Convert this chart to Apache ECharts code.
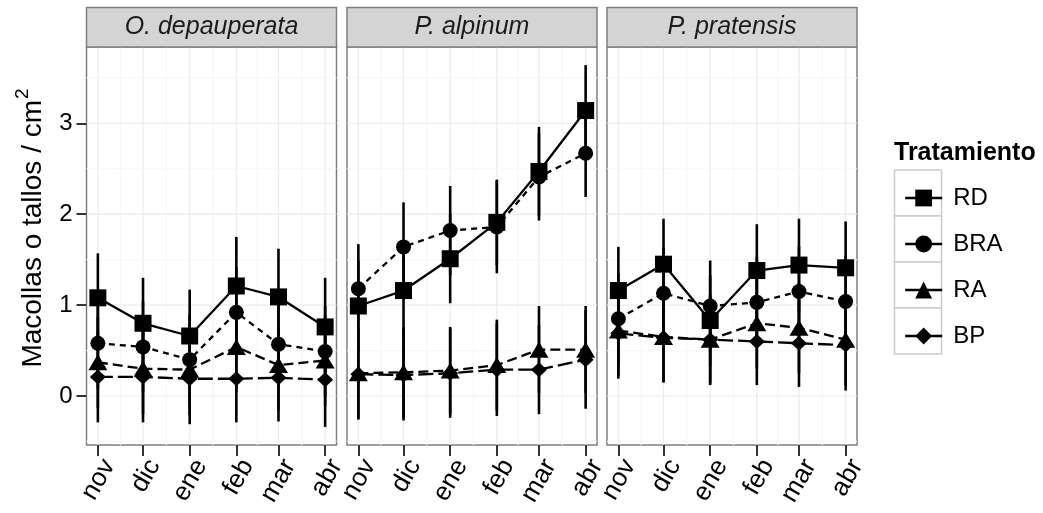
<!DOCTYPE html>
<html><head><meta charset="utf-8">
<script src="https://cdn.jsdelivr.net/npm/echarts@6/dist/echarts.min.js"></script>
<style>html,body{margin:0;padding:0;background:#fff}#c{width:1043px;height:513px}</style>
</head><body><div id="c"></div>
<script>
// ---------- data ----------
const months = ['nov','dic','ene','feb','mar','abr'];
const dates = ['2010-11-01','2010-12-01','2011-01-01','2011-02-01','2011-03-01','2011-04-01'];
const species = ['O. depauperata','P. alpinum','P. pratensis'];
const treatments = ['RD','BRA','RA','BP'];
const yTicks = [0,1,2,3];
const yMinor = [-0.5,0.5,1.5,2.5,3.5];
const yTitle = 'Macollas o tallos / cm';
const yTitleSup = '2';
const legendTitle = 'Tratamiento';

// O. depauperata
const odep_RD  = [1.08,0.80,0.66,1.21,1.09,0.76];
const odep_BRA = [0.58,0.54,0.40,0.92,0.57,0.49];
const odep_RA  = [0.37,0.30,0.29,0.54,0.34,0.39];
const odep_BP  = [0.21,0.21,0.19,0.19,0.20,0.18];
const odep_RD_err  = [0.49,0.50,0.51,0.54,0.53,0.54];
const odep_BRA_err = [0.50,0.50,0.50,0.50,0.50,0.50];
const odep_RA_err  = [0.50,0.50,0.50,0.50,0.50,0.50];
const odep_BP_err  = [0.50,0.50,0.50,0.48,0.48,0.52];
// P. alpinum
const palp_RD  = [0.99,1.16,1.51,1.91,2.47,3.14];
const palp_BRA = [1.18,1.64,1.82,1.86,2.41,2.67];
const palp_RA  = [0.25,0.26,0.28,0.34,0.51,0.51];
const palp_BP  = [0.24,0.23,0.25,0.29,0.29,0.40];
const palp_RD_err  = [0.50,0.50,0.49,0.47,0.49,0.50];
const palp_BRA_err = [0.49,0.49,0.49,0.51,0.48,0.48];
const palp_RA_err  = [0.50,0.50,0.48,0.50,0.48,0.48];
const palp_BP_err  = [0.50,0.50,0.49,0.51,0.49,0.54];
// P. pratensis
const ppra_RD  = [1.16,1.45,0.83,1.38,1.44,1.41];
const ppra_BRA = [0.85,1.13,0.99,1.03,1.15,1.04];
const ppra_RA  = [0.72,0.65,0.62,0.80,0.75,0.62];
const ppra_BP  = [0.69,0.64,0.62,0.60,0.58,0.56];
const ppra_RD_err  = [0.48,0.50,0.50,0.51,0.51,0.51];
const ppra_BRA_err = [0.50,0.50,0.50,0.50,0.50,0.50];
const ppra_RA_err  = [0.50,0.50,0.50,0.50,0.50,0.50];
const ppra_BP_err  = [0.50,0.49,0.48,0.48,0.48,0.50];

const values = [
  [odep_RD, odep_BRA, odep_RA, odep_BP],
  [palp_RD, palp_BRA, palp_RA, palp_BP],
  [ppra_RD, ppra_BRA, ppra_RA, ppra_BP]
];
const errors = [
  [odep_RD_err, odep_BRA_err, odep_RA_err, odep_BP_err],
  [palp_RD_err, palp_BRA_err, palp_RA_err, palp_BP_err],
  [ppra_RD_err, ppra_BRA_err, ppra_RA_err, ppra_BP_err]
];

// ---------- styles ----------
const FONT = 'Liberation Sans, Arial, sans-serif';
const symbols = ['rect','circle','triangle','diamond'];
const symSizes = [17,15,[19,16],[16,15]];
const dashes = ['solid',[6,5],[10,5],[15,5]];

// x as day number since first date (time scale)
const toUTC = d => Date.UTC(+d.slice(0,4), +d.slice(5,7)-1, +d.slice(8,10));
const t0 = toUTC(dates[0]);
const days = dates.map(d => (toUTC(d) - t0) / 86400000);
const span = days[days.length-1] - days[0];
const xMin = days[0] - 0.05*span, xMax = days[days.length-1] + 0.05*span;
let lo = Infinity, hi = -Infinity;
values.forEach((p,pi)=>p.forEach((s,si)=>s.forEach((v,i)=>{
  const e = errors[pi][si][i];
  lo = Math.min(lo, v-e); hi = Math.max(hi, v+e);
})));
const yMin = lo - 0.05*(hi-lo), yMax = hi + 0.05*(hi-lo);
const midDays = days.slice(1).map((t,i)=>(t+days[i])/2);

const gridLeft = [86.5, 347, 607];
const gridW = 250, gridTop = 47, gridH = 398;

const grids = [], xAxes = [], yAxes = [], series = [], graphics = [];
for (let p = 0; p < 3; p++) {
  grids.push({left: gridLeft[p], top: gridTop, width: gridW, height: gridH,
    show: true, borderColor: '#7f7f7f', borderWidth: 1.5, backgroundColor: '#fff', containLabel: false});
  xAxes.push({type: 'value', gridIndex: p, min: xMin, max: xMax,
    axisLine: {show: false, onZero: false}, splitLine: {show: false},
    axisTick: {show: true, customValues: days, length: 11, lineStyle: {color: '#333', width: 2}},
    axisLabel: {show: true, customValues: days, rotate: 60, fontSize: 26, color: '#000', fontFamily: FONT,
      margin: 10, verticalAlign: 'top',
      formatter: v => { const i = days.indexOf(v); return i >= 0 ? months[i] : ''; }}
  });
  yAxes.push({type: 'value', gridIndex: p, min: yMin, max: yMax,
    axisLine: {show: false, onZero: false}, splitLine: {show: false},
    axisTick: {show: p === 0, customValues: yTicks, length: 10, lineStyle: {color: '#333', width: 2}},
    axisLabel: {show: p === 0, customValues: yTicks, fontSize: 24, color: '#000', fontFamily: FONT, margin: 14}
  });

  // gridlines
  series.push({type: 'custom', xAxisIndex: p, yAxisIndex: p, silent: true, z: 0, animation: false,
    data: midDays.map(t => [t, 0, 0]).concat(days.map(t => [t, 0, 1])),
    encode: {x: 0, y: 1},
    renderItem: (params, api) => {
      const cs = params.coordSys;
      const x = api.coord([api.value(0), 0])[0];
      return {type: 'line', shape: {x1: x, y1: cs.y, x2: x, y2: cs.y + cs.height},
        style: {stroke: api.value(2) ? '#ebebeb' : '#f7f7f7', lineWidth: 1.2}};
    }});
  series.push({type: 'custom', xAxisIndex: p, yAxisIndex: p, silent: true, z: 0, animation: false,
    data: yMinor.map(v => [days[0], v, 0]).concat(yTicks.map(v => [days[0], v, 1])),
    encode: {x: 0, y: 1},
    renderItem: (params, api) => {
      const cs = params.coordSys;
      const y = api.coord([api.value(0), api.value(1)])[1];
      return {type: 'line', shape: {x1: cs.x, y1: y, x2: cs.x + cs.width, y2: y},
        style: {stroke: api.value(2) ? '#ebebeb' : '#f7f7f7', lineWidth: 1.2}};
    }});

  for (let k = 0; k < 4; k++) {
    const vals = values[p][k], errs = errors[p][k];
    series.push({type: 'custom', xAxisIndex: p, yAxisIndex: p, silent: true, z: 1, animation: false,
      data: vals.map((v,i) => [days[i], v - errs[i], v + errs[i]]),
      encode: {x: 0, y: [1,2]},
      renderItem: (params, api) => {
        const a = api.coord([api.value(0), api.value(1)]);
        const b = api.coord([api.value(0), api.value(2)]);
        return {type: 'line', shape: {x1: a[0], y1: a[1], x2: b[0], y2: b[1]},
          style: {stroke: '#000', lineWidth: 2.6, lineDash: null}};
      }});
    series.push({type: 'line', name: treatments[k], xAxisIndex: p, yAxisIndex: p, z: 3, animation: false,
      data: vals.map((v,i) => [days[i], v]),
      symbol: symbols[k], symbolSize: symSizes[k], showAllSymbol: true,
      itemStyle: {color: '#000', borderWidth: 0},
      lineStyle: {color: '#000', width: 2.3, type: dashes[k]}
    });
  }

  // strip
  graphics.push({type: 'rect', z: 10, shape: {x: gridLeft[p], y: 7.5, width: gridW, height: 39.5},
    style: {fill: '#d4d4d4', stroke: '#7f7f7f', lineWidth: 1.5}});
  graphics.push({type: 'text', z: 11, x: gridLeft[p] + gridW/2, y: 27.5,
    style: {text: species[p], font: 'italic 25px ' + FONT, fill: '#1a1a1a', align: 'center', verticalAlign: 'middle'}});
}

// y-axis title (centered on strip + panel area)
graphics.push({type: 'text', z: 11, x: 30, y: 228, rotation: Math.PI/2,
  style: {text: '{a|' + yTitle + '}{s|' + yTitleSup + '}', align: 'center', verticalAlign: 'middle',
    rich: {
      a: {font: '28px ' + FONT, fill: '#000', lineHeight: 34, verticalAlign: 'bottom'},
      s: {font: '19px ' + FONT, fill: '#000', lineHeight: 34, verticalAlign: 'top', padding: [0,0,0,1]}
    }}});

// legend
graphics.push({type: 'text', z: 11, x: 894, y: 153,
  style: {text: legendTitle, font: 'bold 25px ' + FONT, fill: '#000', align: 'left', verticalAlign: 'middle'}});
for (let k = 0; k < 4; k++) {
  graphics.push({type: 'rect', z: 0, shape: {x: 894.5, y: 170 + k*46, width: 47, height: 46},
    style: {fill: '#fff', stroke: '#cccccc', lineWidth: 1.5}});
}

const chart = echarts.init(document.getElementById('c'), null, {renderer: 'canvas'});
chart.setOption({
  animation: false,
  backgroundColor: '#fff',
  grid: grids, xAxis: xAxes, yAxis: yAxes, series: series,
  legend: {data: treatments, orient: 'vertical', left: 899, top: 181, z: 20,
    itemWidth: 37, itemHeight: 21, itemGap: 22,
    lineStyle: {type: 'solid', width: 2.3, color: '#000'},
    textStyle: {fontSize: 24, lineHeight: 24, color: '#000', fontFamily: FONT, padding: [0,0,0,6]},
    selectedMode: false},
  graphic: graphics
});
</script></body></html>
